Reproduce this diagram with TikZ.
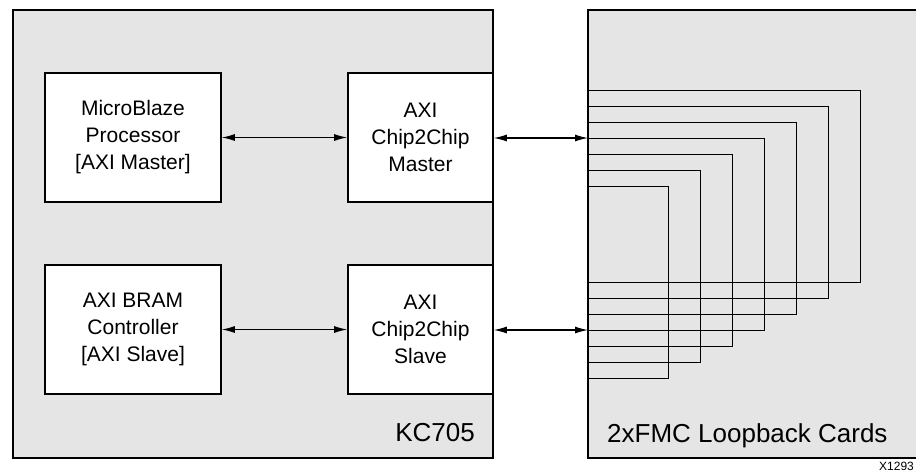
\documentclass[tikz,border=0pt]{standalone}
\usepackage{fontspec}
\setmainfont{Liberation Sans}
\usetikzlibrary{arrows.meta}

\tikzset{
  carte/.style={draw=black, fill=gray!20, line width=2pt},
  bloc/.style={draw=black, fill=white, line width=1.6pt, align=center,
    font=\fontsize{21}{27}\selectfont, inner sep=0pt},
  lien/.style={line width=1.1pt, {Latex[length=13pt,width=7pt]}-{Latex[length=13pt,width=7pt]}},
  boucle/.style={line width=1pt},
  titre/.style={font=\fontsize{26}{30}\selectfont, inner sep=0pt}
}

\begin{document}
\begin{tikzpicture}[x=1pt, y=-1pt]

    \useasboundingbox (0,0) rectangle (916,472);

    % Cartes
    \filldraw[carte] (13,10) rectangle (493,458);
    \filldraw[carte] (588,10) rectangle (940,458);
    \node[titre, anchor=base east] (kc) at (475,441) {KC705};
    \node[titre, anchor=base west] (fmc) at (607,442) {2xFMC Loopback Cards};

    % Blocs
    \node[bloc, minimum width=176, minimum height=129] (mb) at (133,137.5)
        {MicroBlaze\\Processor\\ {[AXI Master]}};
    \node[bloc, minimum width=145, minimum height=129] (master) at (420.5,137.5)
        {AXI\\Chip2Chip\\Master};
    \node[bloc, minimum width=176, minimum height=129] (bram) at (133,329.5)
        {AXI BRAM\\Controller\\ {[AXI Slave]}};
    \node[bloc, minimum width=145, minimum height=129] (slave) at (420.5,329.5)
        {AXI\\Chip2Chip\\Slave};

    % Entrees des cartes
    \coordinate (in1) at (588,138);
    \coordinate (in2) at (588,330);

    % Boucles
    \foreach \i in {0,...,6}
        \draw[boucle] (588,90+16*\i) -| (860-32*\i,282+16*\i) -- (588,282+16*\i);

    % Fleches
    \draw[lien] (mb.east) -- (master.west);
    \draw[lien] (bram.east) -- (slave.west);
    \draw[lien] (master.east |- in1) -- (in1);
    \draw[lien] (slave.east |- in2) -- (in2);

    % Reference
    \node[font=\fontsize{12}{13}\selectfont, anchor=base west, inner sep=0pt] (ref) at (879,470) {X1293};

\end{tikzpicture}
\end{document}
